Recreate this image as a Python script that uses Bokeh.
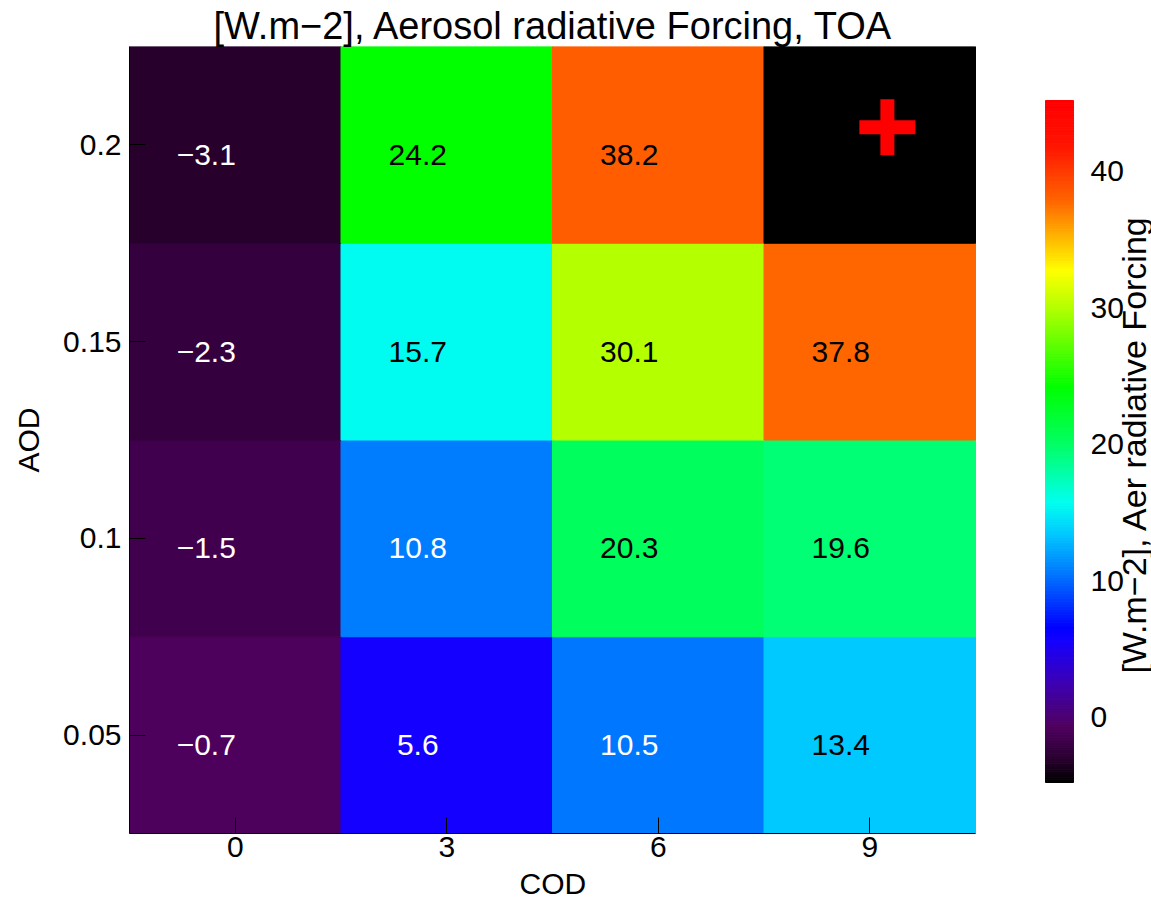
import numpy as np
from bokeh.plotting import figure
from bokeh.models import ColumnDataSource, LinearColorMapper, FixedTicker, Range1d, Title
from bokeh.embed import file_html
from bokeh.resources import INLINE
from bokeh.core.properties import value

# ---------------- data ----------------
cod = [0, 3, 6, 9]                      # x categories (COD)
aod = [0.05, 0.1, 0.15, 0.2]            # y categories (AOD)
aod_labels = ["0.05", "0.1", "0.15", "0.2"]
# forcing[i_aod][i_cod]  (W m-2), NaN = missing cell
forcing = [
    [-0.7, 5.6, 10.5, 13.4],
    [-1.5, 10.8, 20.3, 19.6],
    [-2.3, 15.7, 30.1, 37.8],
    [-3.1, 24.2, 38.2, float("nan")],
]
cbar_low, cbar_high = -4.8, 45.2
cbar_ticks = [0, 10, 20, 30, 40]
cbar_tick_labels = ["0", "10", "20", "30", "40"]
marker_cod = [9.25]
marker_aod = [0.2045]

title_txt = "[W.m\u22122], Aerosol radiative Forcing, TOA"
cbar_title = "[W.m\u22122], Aer radiative Forcing"
FONT = "Liberation Sans"

# ---------------- colormap (rainbow + black) ----------------
cp_vals = [-4.8, -3.1, -0.7, 2.5, 5.6, 6.5, 10.8, 13.4, 15.7, 20.0, 24.2, 30.1, 32.8, 38.0, 42.0, 45.2]
cp_rgb = [(0, 0, 0), (42, 0, 48), (80, 0, 96), (60, 0, 180), (20, 0, 255), (0, 0, 255),
          (0, 128, 255), (0, 200, 255), (0, 255, 240), (0, 255, 100), (0, 255, 0),
          (180, 255, 0), (255, 255, 0), (255, 100, 0), (255, 20, 0), (255, 0, 0)]
levels = np.linspace(cbar_low, cbar_high, 256)
cp_arr = np.array(cp_rgb, dtype=float)
palette = []
for lv in levels:
    r = np.interp(lv, cp_vals, cp_arr[:, 0])
    g = np.interp(lv, cp_vals, cp_arr[:, 1])
    b = np.interp(lv, cp_vals, cp_arr[:, 2])
    palette.append("#%02x%02x%02x" % (int(round(r)), int(round(g)), int(round(b))))
mapper = LinearColorMapper(palette=palette, low=cbar_low, high=cbar_high, nan_color="black")

# ---------------- cells ----------------
xs, ys, vs, txt, tcol = [], [], [], [], []
for i, a in enumerate(aod):
    for j, c in enumerate(cod):
        v = forcing[i][j]
        xs.append(c); ys.append(a); vs.append(v)
        if np.isnan(v):
            txt.append(""); tcol.append("black")
        else:
            txt.append(("%.1f" % v).replace("-", "\u2212"))
            tcol.append("white" if v < 12 else "black")
src = ColumnDataSource(dict(x=xs, y=ys, v=vs, t=txt, tc=tcol))

# ---------------- layout geometry (pixels) ----------------
W, H = 1151, 908
FL, FR, FT, FB = 129, 1151, 46, 833      # frame edges
HEAT_R = 975                              # right edge of heat map
CB_L, CB_R, CB_T, CB_B = 1045, 1073, 100, 782   # colour bar box
x0, x1 = -1.5, 10.5
y0, y1 = 0.025, 0.225
pxu_x = (HEAT_R - FL) / (x1 - x0)
x_end = x0 + (FR - FL) / pxu_x
cb_pxu = (CB_B - CB_T) / (cbar_high - cbar_low)
cby_start = cbar_low - (FB - CB_B) / cb_pxu
cby_end = cbar_high + (CB_T - FT) / cb_pxu
cbx_pxu = CB_R - CB_L
cbx_start = -(CB_L - FL) / cbx_pxu
cbx_end = 1 + (FR - CB_R) / cbx_pxu

p = figure(width=W, height=H, x_range=Range1d(x0, x_end), y_range=Range1d(y0, y1),
           output_backend="svg", toolbar_location=None,
           min_border_left=FL, min_border_right=W - FR, min_border_top=FT, min_border_bottom=H - FB)
p.extra_x_ranges = {"cbx": Range1d(cbx_start, cbx_end)}
p.extra_y_ranges = {"cby": Range1d(cby_start, cby_end)}

p.title.text = title_txt
p.title.align = "left"
p.title.offset = 84
p.title.standoff = 0
p.title.text_font = FONT
p.title.text_font_size = "38px"
p.title.text_font_style = "normal"
p.title.text_color = "black"
p.outline_line_color = None
p.xgrid.visible = False
p.ygrid.visible = False

cell_color = {"field": "v", "transform": mapper}
p.rect(x="x", y="y", width=3, height=0.05, source=src, fill_color=cell_color,
       line_color=cell_color, line_width=1)
p.text(x="x", y="y", text="t", source=src, text_color="tc", x_offset=-29, y_offset=10,
       text_align="center", text_baseline="middle", text_font=value(FONT), text_font_size="30px")
p.scatter(marker_cod, marker_aod, marker="cross", size=56, line_width=14, line_color="#ff0000")

for ax in (p.xaxis[0], p.yaxis[0]):
    ax.major_tick_in = 16
    ax.major_tick_out = 0
    ax.minor_tick_line_color = None
    ax.axis_line_color = "black"
    ax.major_tick_line_color = "black"
    ax.major_label_text_font = FONT
    ax.major_label_text_font_size = "30px"
    ax.major_label_text_color = "black"
    ax.axis_label_text_font = FONT
    ax.axis_label_text_font_size = "30px"
    ax.axis_label_text_font_style = "normal"
    ax.axis_label_text_color = "black"
p.xaxis.ticker = FixedTicker(ticks=cod)
p.xaxis.bounds = (x0, x1)
p.yaxis.ticker = FixedTicker(ticks=aod)
p.yaxis.major_label_overrides = {a: l for a, l in zip(aod, aod_labels)}
p.yaxis.axis_label = "AOD"
p.xaxis.major_label_standoff = 3
p.yaxis.major_label_standoff = 8
p.yaxis.axis_label_standoff = 15

# x-axis label, centred under the heat map (not the whole frame)
p.add_layout(Title(text="COD", align="left", offset=390, standoff=10, text_font=FONT,
                   text_font_size="30px", text_font_style="normal", text_color="black"), "below")

# ---------------- colour bar ----------------
edges = np.linspace(cbar_low, cbar_high, 257)
cb_src = ColumnDataSource(dict(b=edges[:-1], t=edges[1:], c=palette))
p.quad(left=0, right=1, bottom="b", top="t", fill_color="c", line_color="c", line_width=1,
       source=cb_src, x_range_name="cbx", y_range_name="cby")
cbt_src = ColumnDataSource(dict(x=[1] * len(cbar_ticks), y=cbar_ticks, t=cbar_tick_labels))
p.text(x="x", y="y", text="t", source=cbt_src, x_offset=17, text_align="left",
       text_baseline="middle", text_font=value(FONT), text_font_size="30px", text_color="black",
       x_range_name="cbx", y_range_name="cby")
p.text(x=[1], y=[(cbar_low + cbar_high) / 2], text=[cbar_title], x_offset=60, y_offset=3,
       angle=np.pi / 2, text_align="center", text_baseline="middle", text_font=value(FONT),
       text_font_size="34px", text_color="black", x_range_name="cbx", y_range_name="cby")

open("out.html", "w").write(file_html(p, INLINE))
